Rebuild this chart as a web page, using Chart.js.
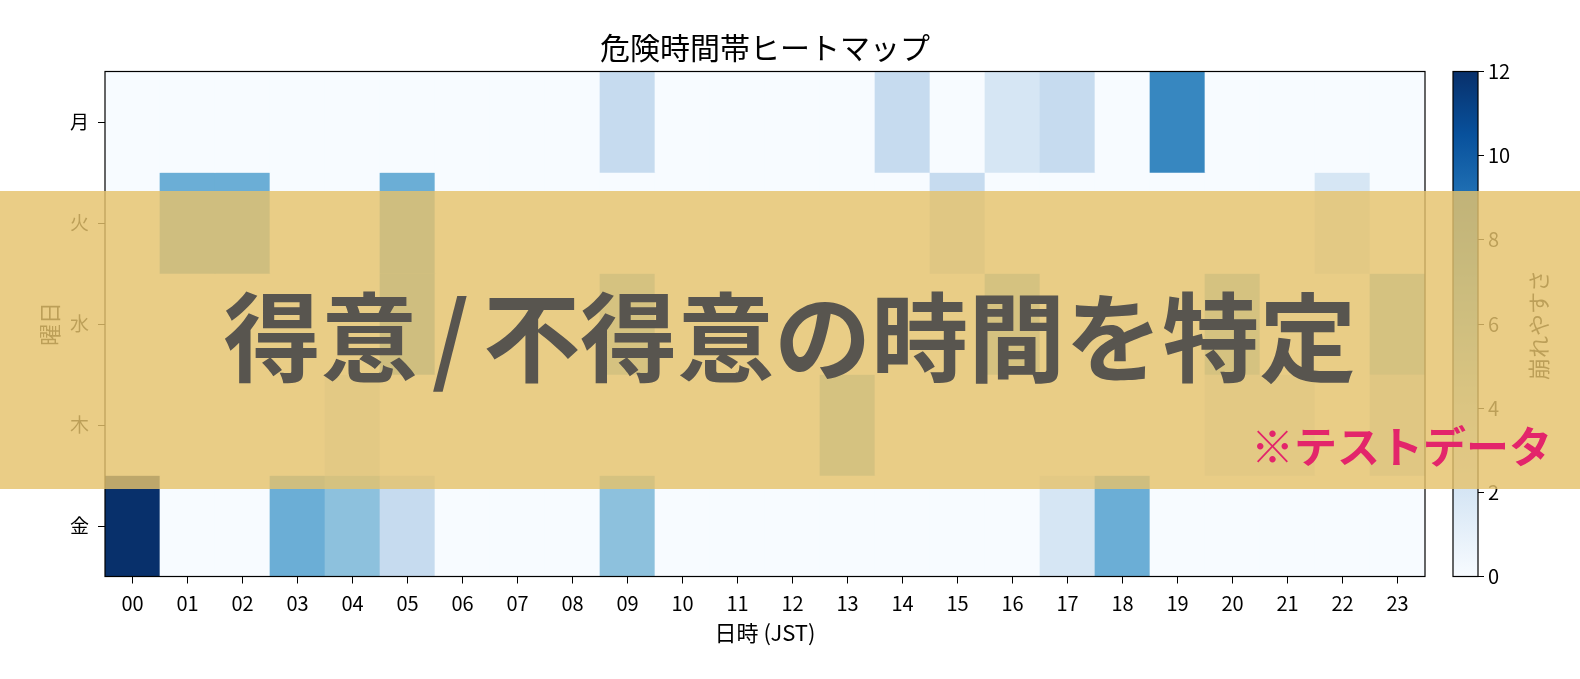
<!DOCTYPE html>
<html lang="ja">
<head>
<meta charset="utf-8">
<title>危険時間帯ヒートマップ</title>
<script src="https://cdn.jsdelivr.net/npm/chart.js@4.4.1/dist/chart.umd.min.js"></script>
<style>
  html, body { margin: 0; padding: 0; background: #fff; }
  body { width: 1580px; height: 679px; position: relative; overflow: hidden; font-family: 'Noto Sans CJK JP', sans-serif; }
  #main { position: absolute; left: 0; top: 0; width: 1580px; height: 679px; }
  #cbar { position: absolute; left: 1440px; top: 0; width: 140px; height: 679px; }
  #cbLabel { position: absolute; left: 1537px; top: 325px; transform: translate(-50%, -50%) rotate(-90deg); font-size: 22px; color: #000; white-space: nowrap; }
  #banner { position: absolute; left: 0; top: 191px; width: 1580px; height: 298px; background: rgba(229, 194, 107, 0.82); }
  #headline { position: absolute; left: 0; top: 283px; width: 1580px; text-align: center; font-size: 97px; line-height: 97px; font-weight: 700; color: #58554f; white-space: nowrap; }
  #headline .sl { margin: 0 14px; }
  #note { position: absolute; right: 28px; top: 423px; font-size: 43px; line-height: 43px; font-weight: 700; color: #e3256b; white-space: nowrap; }
</style>
</head>
<body>
<div id="main"><canvas id="heat"></canvas></div>
<div id="cbar"><canvas id="cb"></canvas></div>
<div id="cbLabel">崩れやすさ</div>
<div id="banner"></div>
<div id="headline">得意<span class="sl">/</span>不得意の時間を特定</div>
<div id="note">※テストデータ</div>
<script>
// 危険時間帯ヒートマップ — bar-based heatmap + colorbar (Chart.js)

const hours = ['00','01','02','03','04','05','06','07','08','09','10','11',
               '12','13','14','15','16','17','18','19','20','21','22','23'];
const days = ['月', '火', '水', '木', '金'];

// 崩れやすさ per hour, one list per weekday
const mon = [0,0,0,0,0,0,0,0,0,3,0,0,0,0,3,0,2,3,0,8,0,0,0,0];
const tue = [0,6,6,0,0,6,0,0,0,0,0,0,0,0,0,3,0,0,0,0,0,0,2,0];
const wed = [0,0,0,0,0,6,0,0,0,5,0,0,0,0,0,0,5,0,0,0,5,0,0,5];
const thu = [0,0,0,0,2,0,0,0,0,0,0,0,0,5,0,0,0,0,0,0,2,2,0,3];
const fri = [12,0,0,6,5,3,0,0,0,5,0,0,0,0,0,0,0,2,6,0,0,0,0,0];

const vmax = 12;
const cbTicks = [0, 2, 4, 6, 8, 10, 12];

const F = "'Noto Sans CJK JP', 'Noto Sans', sans-serif";
const BLUES = ['#f7fbff','#deebf7','#c6dbef','#9ecae1','#6baed6','#4292c6','#2171b5','#08519c','#08306b'];

function blues(t) {
  t = Math.max(0, Math.min(1, t));
  const p = t * (BLUES.length - 1);
  const i = Math.min(Math.floor(p), BLUES.length - 2);
  const f = p - i;
  const a = BLUES[i], b = BLUES[i + 1];
  const ch = (h, k) => parseInt(h.slice(1 + k * 2, 3 + k * 2), 16);
  const mix = k => Math.round(ch(a, k) + (ch(b, k) - ch(a, k)) * f);
  return `rgb(${mix(0)},${mix(1)},${mix(2)})`;
}

const frame = {
  id: 'frame',
  afterDatasetsDraw(chart) {
    const { ctx, chartArea: a } = chart;
    ctx.save();
    ctx.strokeStyle = '#000';
    ctx.lineWidth = 1.2;
    ctx.strokeRect(a.left, a.top, a.right - a.left, a.bottom - a.top);
    ctx.restore();
  },
};

// title centred over the plot area (matplotlib style), not the whole canvas
const plotTitle = {
  id: 'plotTitle',
  afterDraw(chart, args, opts) {
    const { ctx, chartArea: a } = chart;
    ctx.save();
    ctx.fillStyle = '#000';
    ctx.font = `30px ${F}`;
    ctx.textAlign = 'center';
    ctx.textBaseline = 'middle';
    ctx.fillText(opts.text, (a.left + a.right) / 2, 48);
    ctx.restore();
  },
};

const rows = [mon, tue, wed, thu, fri];

new Chart(document.getElementById('heat'), {
  type: 'bar',
  data: {
    labels: hours,
    datasets: rows.map((vals, r) => ({
      label: days[r],
      data: vals.map(() => [r - 0.5, r + 0.5]),
      backgroundColor: vals.map(v => blues(v / vmax)),
      borderWidth: 0,
      grouped: false,
      barPercentage: 1,
      categoryPercentage: 1,
    })),
  },
  options: {
    responsive: true,
    maintainAspectRatio: false,
    animation: false,
    layout: { padding: { left: 0, right: 155, top: 71.5, bottom: 0 } },
    plugins: {
      legend: { display: false },
      tooltip: { enabled: false },
      plotTitle: { text: '危険時間帯ヒートマップ' },
    },
    scales: {
      x: {
        type: 'category',
        offset: true,
        grid: { display: true, drawOnChartArea: false, drawTicks: true, tickLength: 7, tickColor: '#000', offset: false },
        border: { display: false },
        ticks: { color: '#000', font: { family: F, size: 20 }, padding: 8, maxRotation: 0, autoSkip: false },
        title: { display: true, text: '日時 (JST)', color: '#000', font: { family: F, size: 22 }, padding: { top: 0, bottom: 33 } },
        afterFit: s => { s.height = 102.5; },
      },
      y: {
        type: 'linear',
        reverse: true,
        min: -0.5,
        max: 4.5,
        afterBuildTicks: s => { s.ticks = days.map((_, i) => ({ value: i })); },
        ticks: { callback: v => days[v], color: '#000', font: { family: F, size: 19 }, padding: 9 },
        grid: { display: true, drawOnChartArea: false, drawTicks: true, tickLength: 7, tickColor: '#000' },
        border: { display: false },
        title: { display: true, text: '曜日', color: '#000', font: { family: F, size: 22 }, padding: { top: 36, bottom: 0 } },
        afterFit: s => { s.width = 105; },
      },
    },
  },
  plugins: [frame, plotTitle],
});

function cbFill(c) {
  const a = c.chart.chartArea;
  if (!a) return BLUES[0];
  const g = c.chart.ctx.createLinearGradient(0, a.bottom, 0, a.top);
  BLUES.forEach((col, i) => g.addColorStop(i / (BLUES.length - 1), col));
  return g;
}

new Chart(document.getElementById('cb'), {
  type: 'bar',
  data: {
    labels: [''],
    datasets: [{ data: [[0, vmax]], backgroundColor: cbFill, borderWidth: 0, barPercentage: 1, categoryPercentage: 1 }],
  },
  options: {
    responsive: true,
    maintainAspectRatio: false,
    animation: false,
    layout: { padding: { left: 13, right: 0, top: 71.5, bottom: 102.5 } },
    plugins: { legend: { display: false }, tooltip: { enabled: false } },
    scales: {
      x: { display: false },
      y: {
        position: 'right',
        min: 0,
        max: vmax,
        afterBuildTicks: s => { s.ticks = cbTicks.map(v => ({ value: v })); },
        ticks: { color: '#000', font: { family: F, size: 20 }, padding: 4 },
        grid: { display: true, drawOnChartArea: false, drawTicks: true, tickLength: 6, tickColor: '#000' },
        border: { display: false },
        afterFit: s => { s.width = 102; },
      },
    },
  },
  plugins: [frame],
});
</script>
</body>
</html>
